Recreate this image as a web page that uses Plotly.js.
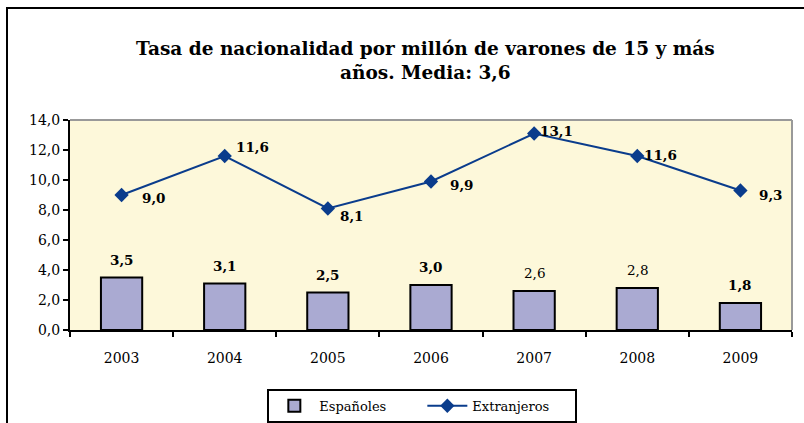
<!DOCTYPE html>
<html><head><meta charset="utf-8">
<script src="https://cdn.plot.ly/plotly-3.0.1.min.js"></script>
<style>
html,body{margin:0;padding:0;background:#fff;overflow:hidden;width:804px;height:423px;}
#frame{position:absolute;left:6px;top:7px;width:796px;height:414px;border-left:2px solid #000;border-top:2px solid #000;pointer-events:none;}
#chart{position:absolute;left:0;top:0;width:804px;height:423px;}
</style></head><body>
<div id="chart"></div>
<div id="frame"></div>
<script>
const years = ['2003','2004','2005','2006','2007','2008','2009'];
const espanoles = [3.5, 3.1, 2.5, 3.0, 2.6, 2.8, 1.8];
const extranjeros = [9.0, 11.6, 8.1, 9.9, 13.1, 11.6, 9.3];
const yTicks = [0,2,4,6,8,10,12,14];
const fmt = v => v.toFixed(1).replace('.', ',');

const FONT = 'DejaVu Serif, Georgia, serif';
const barBold = [true,true,true,true,false,false,true];
const lineOffsets = [[32,-3],[28,9],[24,-7],[31,-3],[22,3],[23,1],[31,-4]];
const annotations = [];
espanoles.forEach((v,i)=>{
  const t = barBold[i] ? '<b>'+fmt(v)+'</b>' : fmt(v);
  annotations.push({x:i, y:v, xref:'x', yref:'y', text:t, showarrow:false,
    yshift:18, font:{family:FONT, size:13.5, color:'#000'}});
});
extranjeros.forEach((v,i)=>{
  annotations.push({x:i, y:v, xref:'x', yref:'y', text:'<b>'+fmt(v)+'</b>', showarrow:false,
    xshift:lineOffsets[i][0], yshift:lineOffsets[i][1], font:{family:FONT, size:13.5, color:'#000'}});
});

const data = [
  {type:'bar', name:'Españoles', x:years, y:espanoles,
   marker:{color:'#AAAAD2', line:{color:'#000', width:2}}, width:0.4},
  {type:'scatter', mode:'lines+markers', name:'Extranjeros', x:years, y:extranjeros,
   line:{color:'#0A3C8C', width:2}, marker:{symbol:'diamond', size:11, color:'#0A3C8C'}}
];

const layout = {
  width:804, height:423,
  margin:{l:70, r:12, t:120, b:93, autoexpand:false},
  paper_bgcolor:'rgba(0,0,0,0)', plot_bgcolor:'#FDF8DA',
  title:{text:'<b>Tasa de nacionalidad por millón de varones de 15 y más<br>años. Media: 3,6</b>',
    x:0.529, xanchor:'center', y:0.87, yanchor:'middle',
    font:{family:FONT, size:18.5, color:'#000'}},
  xaxis:{type:'category', tickson:'boundaries', ticks:'outside', ticklen:5, tickcolor:'#000', tickwidth:2,
    showline:true, linecolor:'#000', linewidth:2, showgrid:false, ticklabelstandoff:14,
    tickfont:{family:FONT, size:14, color:'#000'}, range:[-0.5,6.5]},
  yaxis:{range:[0,14], tickvals:yTicks, ticktext:yTicks.map(fmt), ticks:'outside', ticklen:5, tickwidth:2,
    tickcolor:'#000', showline:true, linecolor:'#000', linewidth:2, showgrid:false, zeroline:false,
    tickfont:{family:FONT, size:14, color:'#000'}},
  shapes:[
    {type:'line', xref:'paper', yref:'paper', x0:0, x1:1, y0:1, y1:1, line:{color:'#999', width:2}},
    {type:'line', xref:'paper', yref:'paper', x0:1, x1:1, y0:0, y1:1, line:{color:'#999', width:2}}
  ],
  annotations:annotations,
  showlegend:true,
  legend:{orientation:'h', x:0.488, xanchor:'center', y:-0.28, yanchor:'top',
    bordercolor:'#000', borderwidth:2, bgcolor:'#fff', itemwidth:40, entrywidth:98,
    font:{family:FONT, size:13, color:'#000'}}
};
Plotly.newPlot('chart', data, layout, {displayModeBar:false});
</script>
</body></html>
